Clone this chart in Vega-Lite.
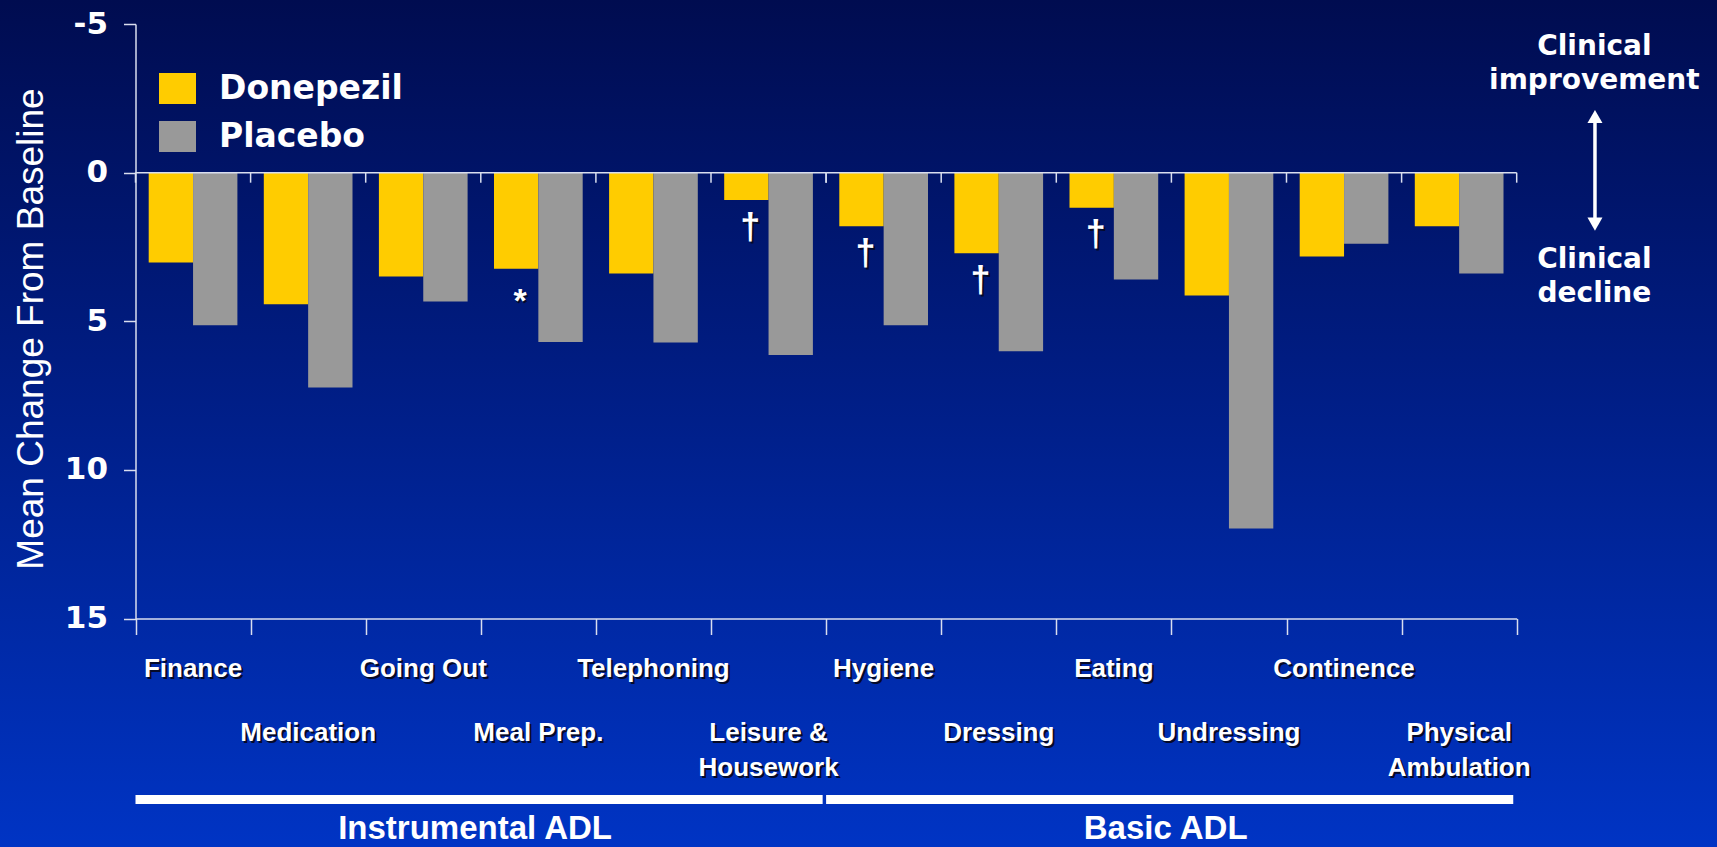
{
  "$schema": "https://vega.github.io/schema/vega-lite/v6.json",
  "width": 1717,
  "height": 847,
  "padding": 0,
  "autosize": {"type": "none"},
  "background": "#000c50",
  "config": {"view": {"stroke": null}},
  "datasets": {
    "scores": [
      {"activity": "Finance", "treatment": "Donepezil", "change": 3.02, "significance": ""},
      {"activity": "Finance", "treatment": "Placebo", "change": 5.13, "significance": ""},
      {"activity": "Medication", "treatment": "Donepezil", "change": 4.43, "significance": ""},
      {"activity": "Medication", "treatment": "Placebo", "change": 7.23, "significance": ""},
      {"activity": "Going Out", "treatment": "Donepezil", "change": 3.49, "significance": ""},
      {"activity": "Going Out", "treatment": "Placebo", "change": 4.33, "significance": ""},
      {"activity": "Meal Prep.", "treatment": "Donepezil", "change": 3.23, "significance": "*"},
      {"activity": "Meal Prep.", "treatment": "Placebo", "change": 5.7, "significance": ""},
      {"activity": "Telephoning", "treatment": "Donepezil", "change": 3.39, "significance": ""},
      {"activity": "Telephoning", "treatment": "Placebo", "change": 5.71, "significance": ""},
      {"activity": "Leisure & Housework", "treatment": "Donepezil", "change": 0.92, "significance": "†"},
      {"activity": "Leisure & Housework", "treatment": "Placebo", "change": 6.13, "significance": ""},
      {"activity": "Hygiene", "treatment": "Donepezil", "change": 1.8, "significance": "†"},
      {"activity": "Hygiene", "treatment": "Placebo", "change": 5.13, "significance": ""},
      {"activity": "Dressing", "treatment": "Donepezil", "change": 2.71, "significance": "†"},
      {"activity": "Dressing", "treatment": "Placebo", "change": 6.01, "significance": ""},
      {"activity": "Eating", "treatment": "Donepezil", "change": 1.18, "significance": "†"},
      {"activity": "Eating", "treatment": "Placebo", "change": 3.59, "significance": ""},
      {"activity": "Undressing", "treatment": "Donepezil", "change": 4.13, "significance": ""},
      {"activity": "Undressing", "treatment": "Placebo", "change": 11.97, "significance": ""},
      {"activity": "Continence", "treatment": "Donepezil", "change": 2.82, "significance": ""},
      {"activity": "Continence", "treatment": "Placebo", "change": 2.39, "significance": ""},
      {"activity": "Physical Ambulation", "treatment": "Donepezil", "change": 1.8, "significance": ""},
      {"activity": "Physical Ambulation", "treatment": "Placebo", "change": 3.39, "significance": ""}
    ],
    "activities": [
      {"activity": "Finance", "label": "Finance", "domain": "Instrumental ADL"},
      {"activity": "Medication", "label": "Medication", "domain": "Instrumental ADL"},
      {"activity": "Going Out", "label": "Going Out", "domain": "Instrumental ADL"},
      {"activity": "Meal Prep.", "label": "Meal Prep.", "domain": "Instrumental ADL"},
      {"activity": "Telephoning", "label": "Telephoning", "domain": "Instrumental ADL"},
      {"activity": "Leisure & Housework", "label": "Leisure &\nHousework", "domain": "Instrumental ADL"},
      {"activity": "Hygiene", "label": "Hygiene", "domain": "Basic ADL"},
      {"activity": "Dressing", "label": "Dressing", "domain": "Basic ADL"},
      {"activity": "Eating", "label": "Eating", "domain": "Basic ADL"},
      {"activity": "Undressing", "label": "Undressing", "domain": "Basic ADL"},
      {"activity": "Continence", "label": "Continence", "domain": "Basic ADL"},
      {"activity": "Physical Ambulation", "label": "Physical\nAmbulation", "domain": "Basic ADL"}
    ],
    "domains": [
      {"domain": "Instrumental ADL", "first": "Finance", "last": "Leisure & Housework"},
      {"domain": "Basic ADL", "first": "Hygiene", "last": "Physical Ambulation"}
    ]
  },
  "layer": [
    {
      "data": {"values": [{}]},
      "mark": {
        "type": "rect",
        "color": {
          "gradient": "linear", "x1": 0, "y1": 0, "x2": 0, "y2": 1,
          "stops": [
            {"offset": 0, "color": "#000c50"},
            {"offset": 0.45, "color": "#001d84"},
            {"offset": 1, "color": "#0034c4"}
          ]
        }
      },
      "encoding": {}
    },
    {
      "data": {"name": "scores"},
      "mark": {"type": "bar"},
      "encoding": {
        "x": {
          "field": "activity", "type": "nominal", "title": null,
          "scale": {"domain": ["Finance", "Medication", "Going Out", "Meal Prep.", "Telephoning", "Leisure & Housework", "Hygiene", "Dressing", "Eating", "Undressing", "Continence", "Physical Ambulation"], "range": [135.5, 1516.7], "paddingInner": 0, "paddingOuter": 0},
          "axis": {"orient": "bottom", "offset": -228.5, "title": null, "labels": false, "grid": false, "domainColor": "#d9deef", "domainWidth": 1.5, "tickColor": "#d9deef", "tickWidth": 1.5, "tickSize": 16, "tickBand": "extent", "zindex": 1}
        },
        "xOffset": {"field": "treatment", "type": "nominal", "scale": {"domain": ["Donepezil", "Placebo"], "paddingInner": 0, "paddingOuter": 0.2976}},
        "y": {
          "field": "change", "type": "quantitative", "stack": null, "title": "Mean Change From Baseline",
          "scale": {"domain": [-5, 15], "range": [24.1, 618.5], "nice": false, "zero": false},
          "axis": {"orient": "left", "offset": -135.5, "values": [-5, 0, 5, 10, 15], "labelExpr": "replace(datum.label, '\u2212', '-')", "title": "Mean Change From Baseline", "titleFont": "Liberation Sans", "titleFontSize": 37, "titleFontWeight": "normal", "titleColor": "#ffffff", "titleAngle": 270, "titleX": -104.5, "titleY": 328.5, "titleAlign": "center", "titleBaseline": "middle", "labelFont": "DejaVu Sans", "labelFontWeight": "bold", "labelFontSize": 31, "labelColor": "#ffffff", "labelPadding": 16, "labelBaseline": "middle", "labelFlush": false, "labelOverlap": false, "tickSize": 12, "tickColor": "#d9deef", "tickWidth": 1.5, "domainColor": "#d9deef", "domainWidth": 1.5, "grid": false, "zindex": 1}
        },
        "color": {
          "field": "treatment", "type": "nominal",
          "scale": {"domain": ["Donepezil", "Placebo"], "range": ["#ffcc00", "#999999"]},
          "legend": {"orient": "none", "legendX": 159, "legendY": 70, "title": null, "padding": 0, "symbolType": "M-1,-0.84L1,-0.84L1,0.84L-1,0.84Z", "symbolSize": 1369, "symbolStrokeWidth": 0, "labelFont": "DejaVu Sans", "labelFontWeight": "bold", "labelFontSize": 33, "labelColor": "#ffffff", "labelLimit": 500, "labelOffset": 23, "rowPadding": 12, "zindex": 1}
        }
      }
    },
    {
      "data": {"name": "domains"},
      "mark": {"type": "rule", "color": "#d9deef", "strokeWidth": 1.5},
      "encoding": {
        "x": {"field": "first", "type": "nominal", "title": null, "bandPosition": 0, "scale": {"domain": ["Finance", "Medication", "Going Out", "Meal Prep.", "Telephoning", "Leisure & Housework", "Hygiene", "Dressing", "Eating", "Undressing", "Continence", "Physical Ambulation"], "range": [135.5, 1516.7], "paddingInner": 0, "paddingOuter": 0}},
        "x2": {"field": "last", "title": null, "bandPosition": 1},
        "y": {"datum": 0, "type": "quantitative", "scale": {"domain": [-5, 15], "range": [24.1, 618.5], "nice": false, "zero": false}}
      }
    },
    {
      "data": {"name": "activities"},
      "mark": {"type": "rule", "color": "#d9deef", "strokeWidth": 1.5},
      "encoding": {
        "x": {"field": "activity", "type": "nominal", "title": null, "bandPosition": 0, "scale": {"domain": ["Finance", "Medication", "Going Out", "Meal Prep.", "Telephoning", "Leisure & Housework", "Hygiene", "Dressing", "Eating", "Undressing", "Continence", "Physical Ambulation"], "range": [135.5, 1516.7], "paddingInner": 0, "paddingOuter": 0}},
        "y": {"datum": 0, "type": "quantitative", "scale": {"domain": [-5, 15], "range": [24.1, 618.5], "nice": false, "zero": false}},
        "y2": {"datum": 0.336}
      }
    },
    {
      "data": {"name": "domains"},
      "mark": {"type": "rule", "color": "#d9deef", "strokeWidth": 1.5},
      "encoding": {
        "x": {"field": "last", "type": "nominal", "title": null, "bandPosition": 1, "scale": {"domain": ["Finance", "Medication", "Going Out", "Meal Prep.", "Telephoning", "Leisure & Housework", "Hygiene", "Dressing", "Eating", "Undressing", "Continence", "Physical Ambulation"], "range": [135.5, 1516.7], "paddingInner": 0, "paddingOuter": 0}},
        "y": {"datum": 0, "type": "quantitative", "scale": {"domain": [-5, 15], "range": [24.1, 618.5], "nice": false, "zero": false}},
        "y2": {"datum": 0.336}
      }
    },
    {
      "data": {"name": "scores"},
      "transform": [{"filter": "datum.significance === '†'"}],
      "mark": {"type": "text", "font": "Liberation Sans", "fontWeight": "bold", "fontSize": 36, "baseline": "middle", "align": "center", "color": "#050a28", "dx": 6, "dy": 29.5},
      "encoding": {
        "x": {"field": "activity", "type": "nominal", "title": null, "scale": {"domain": ["Finance", "Medication", "Going Out", "Meal Prep.", "Telephoning", "Leisure & Housework", "Hygiene", "Dressing", "Eating", "Undressing", "Continence", "Physical Ambulation"], "range": [135.5, 1516.7], "paddingInner": 0, "paddingOuter": 0}},
        "xOffset": {"field": "treatment", "type": "nominal", "scale": {"domain": ["Donepezil", "Placebo"], "paddingInner": 0, "paddingOuter": 0.2976}},
        "y": {"field": "change", "type": "quantitative", "title": "Mean Change From Baseline", "scale": {"domain": [-5, 15], "range": [24.1, 618.5], "nice": false, "zero": false}},
        "text": {"field": "significance"}
      }
    },
    {
      "data": {"name": "scores"},
      "transform": [{"filter": "datum.significance === '†'"}],
      "mark": {"type": "text", "font": "Liberation Sans", "fontWeight": "bold", "fontSize": 36, "baseline": "middle", "align": "center", "color": "#ffffff", "dx": 4, "dy": 27.5},
      "encoding": {
        "x": {"field": "activity", "type": "nominal", "title": null, "scale": {"domain": ["Finance", "Medication", "Going Out", "Meal Prep.", "Telephoning", "Leisure & Housework", "Hygiene", "Dressing", "Eating", "Undressing", "Continence", "Physical Ambulation"], "range": [135.5, 1516.7], "paddingInner": 0, "paddingOuter": 0}},
        "xOffset": {"field": "treatment", "type": "nominal", "scale": {"domain": ["Donepezil", "Placebo"], "paddingInner": 0, "paddingOuter": 0.2976}},
        "y": {"field": "change", "type": "quantitative", "title": "Mean Change From Baseline", "scale": {"domain": [-5, 15], "range": [24.1, 618.5], "nice": false, "zero": false}},
        "text": {"field": "significance"}
      }
    },
    {
      "data": {"name": "scores"},
      "transform": [{"filter": "datum.significance === '*'"}],
      "mark": {"type": "text", "font": "Liberation Sans", "fontWeight": "bold", "fontSize": 34, "baseline": "middle", "align": "center", "color": "#050a28", "dx": 5.5, "dy": 35},
      "encoding": {
        "x": {"field": "activity", "type": "nominal", "title": null, "scale": {"domain": ["Finance", "Medication", "Going Out", "Meal Prep.", "Telephoning", "Leisure & Housework", "Hygiene", "Dressing", "Eating", "Undressing", "Continence", "Physical Ambulation"], "range": [135.5, 1516.7], "paddingInner": 0, "paddingOuter": 0}},
        "xOffset": {"field": "treatment", "type": "nominal", "scale": {"domain": ["Donepezil", "Placebo"], "paddingInner": 0, "paddingOuter": 0.2976}},
        "y": {"field": "change", "type": "quantitative", "title": "Mean Change From Baseline", "scale": {"domain": [-5, 15], "range": [24.1, 618.5], "nice": false, "zero": false}},
        "text": {"field": "significance"}
      }
    },
    {
      "data": {"name": "scores"},
      "transform": [{"filter": "datum.significance === '*'"}],
      "mark": {"type": "text", "font": "Liberation Sans", "fontWeight": "bold", "fontSize": 34, "baseline": "middle", "align": "center", "color": "#ffffff", "dx": 4, "dy": 33.5},
      "encoding": {
        "x": {"field": "activity", "type": "nominal", "title": null, "scale": {"domain": ["Finance", "Medication", "Going Out", "Meal Prep.", "Telephoning", "Leisure & Housework", "Hygiene", "Dressing", "Eating", "Undressing", "Continence", "Physical Ambulation"], "range": [135.5, 1516.7], "paddingInner": 0, "paddingOuter": 0}},
        "xOffset": {"field": "treatment", "type": "nominal", "scale": {"domain": ["Donepezil", "Placebo"], "paddingInner": 0, "paddingOuter": 0.2976}},
        "y": {"field": "change", "type": "quantitative", "title": "Mean Change From Baseline", "scale": {"domain": [-5, 15], "range": [24.1, 618.5], "nice": false, "zero": false}},
        "text": {"field": "significance"}
      }
    },
    {
      "data": {"name": "activities"},
      "transform": [{"filter": {"field": "activity", "oneOf": ["Finance", "Going Out", "Telephoning", "Hygiene", "Eating", "Continence"]}}],
      "mark": {"type": "text", "font": "Liberation Sans", "fontWeight": "bold", "fontSize": 26, "baseline": "top", "align": "center", "lineBreak": "\n", "lineHeight": 35, "color": "#050a28", "dx": 2, "dy": 2},
      "encoding": {
        "x": {"field": "activity", "type": "nominal", "title": null, "scale": {"domain": ["Finance", "Medication", "Going Out", "Meal Prep.", "Telephoning", "Leisure & Housework", "Hygiene", "Dressing", "Eating", "Undressing", "Continence", "Physical Ambulation"], "range": [135.5, 1516.7], "paddingInner": 0, "paddingOuter": 0}},
        "y": {"datum": 16.262, "type": "quantitative", "scale": {"domain": [-5, 15], "range": [24.1, 618.5], "nice": false, "zero": false}},
        "text": {"field": "label"}
      }
    },
    {
      "data": {"name": "activities"},
      "transform": [{"filter": {"field": "activity", "oneOf": ["Finance", "Going Out", "Telephoning", "Hygiene", "Eating", "Continence"]}}],
      "mark": {"type": "text", "font": "Liberation Sans", "fontWeight": "bold", "fontSize": 26, "baseline": "top", "align": "center", "lineBreak": "\n", "lineHeight": 35, "color": "#ffffff"},
      "encoding": {
        "x": {"field": "activity", "type": "nominal", "title": null, "scale": {"domain": ["Finance", "Medication", "Going Out", "Meal Prep.", "Telephoning", "Leisure & Housework", "Hygiene", "Dressing", "Eating", "Undressing", "Continence", "Physical Ambulation"], "range": [135.5, 1516.7], "paddingInner": 0, "paddingOuter": 0}},
        "y": {"datum": 16.262, "type": "quantitative", "scale": {"domain": [-5, 15], "range": [24.1, 618.5], "nice": false, "zero": false}},
        "text": {"field": "label"}
      }
    },
    {
      "data": {"name": "activities"},
      "transform": [{"filter": {"field": "activity", "oneOf": ["Medication", "Meal Prep.", "Leisure & Housework", "Dressing", "Undressing", "Physical Ambulation"]}}],
      "mark": {"type": "text", "font": "Liberation Sans", "fontWeight": "bold", "fontSize": 26, "baseline": "top", "align": "center", "lineBreak": "\n", "lineHeight": 35, "color": "#050a28", "dx": 2, "dy": 2},
      "encoding": {
        "x": {"field": "activity", "type": "nominal", "title": null, "scale": {"domain": ["Finance", "Medication", "Going Out", "Meal Prep.", "Telephoning", "Leisure & Housework", "Hygiene", "Dressing", "Eating", "Undressing", "Continence", "Physical Ambulation"], "range": [135.5, 1516.7], "paddingInner": 0, "paddingOuter": 0}},
        "y": {"datum": 18.415, "type": "quantitative", "scale": {"domain": [-5, 15], "range": [24.1, 618.5], "nice": false, "zero": false}},
        "text": {"field": "label"}
      }
    },
    {
      "data": {"name": "activities"},
      "transform": [{"filter": {"field": "activity", "oneOf": ["Medication", "Meal Prep.", "Leisure & Housework", "Dressing", "Undressing", "Physical Ambulation"]}}],
      "mark": {"type": "text", "font": "Liberation Sans", "fontWeight": "bold", "fontSize": 26, "baseline": "top", "align": "center", "lineBreak": "\n", "lineHeight": 35, "color": "#ffffff"},
      "encoding": {
        "x": {"field": "activity", "type": "nominal", "title": null, "scale": {"domain": ["Finance", "Medication", "Going Out", "Meal Prep.", "Telephoning", "Leisure & Housework", "Hygiene", "Dressing", "Eating", "Undressing", "Continence", "Physical Ambulation"], "range": [135.5, 1516.7], "paddingInner": 0, "paddingOuter": 0}},
        "y": {"datum": 18.415, "type": "quantitative", "scale": {"domain": [-5, 15], "range": [24.1, 618.5], "nice": false, "zero": false}},
        "text": {"field": "label"}
      }
    },
    {
      "data": {"name": "domains"},
      "mark": {"type": "rule", "color": "#ffffff", "strokeWidth": 9, "strokeCap": "butt"},
      "encoding": {
        "x": {"field": "first", "type": "nominal", "title": null, "bandPosition": 0.0, "scale": {"domain": ["Finance", "Medication", "Going Out", "Meal Prep.", "Telephoning", "Leisure & Housework", "Hygiene", "Dressing", "Eating", "Undressing", "Continence", "Physical Ambulation"], "range": [135.5, 1516.7], "paddingInner": 0, "paddingOuter": 0}},
        "x2": {"field": "last", "title": null, "bandPosition": 0.97},
        "y": {"datum": 21.09, "type": "quantitative", "scale": {"domain": [-5, 15], "range": [24.1, 618.5], "nice": false, "zero": false}}
      }
    },
    {
      "data": {"name": "domains"},
      "mark": {"type": "text", "font": "Liberation Sans", "fontWeight": "bold", "fontSize": 33, "baseline": "alphabetic", "align": "center", "color": "#ffffff"},
      "encoding": {
        "x": {"field": "first", "type": "nominal", "title": null, "bandPosition": 2.95, "scale": {"domain": ["Finance", "Medication", "Going Out", "Meal Prep.", "Telephoning", "Leisure & Housework", "Hygiene", "Dressing", "Eating", "Undressing", "Continence", "Physical Ambulation"], "range": [135.5, 1516.7], "paddingInner": 0, "paddingOuter": 0}},
        "y": {"datum": 22.42, "type": "quantitative", "scale": {"domain": [-5, 15], "range": [24.1, 618.5], "nice": false, "zero": false}},
        "text": {"field": "domain"}
      }
    },
    {
      "data": {"values": [{}]},
      "mark": {"type": "text", "text": ["Clinical", "improvement"], "font": "DejaVu Sans", "fontWeight": "bold", "fontSize": 28, "baseline": "top", "align": "center", "lineHeight": 34, "color": "#ffffff"},
      "encoding": {
        "x": {"datum": "Physical Ambulation", "type": "nominal", "bandPosition": 1.675, "scale": {"domain": ["Finance", "Medication", "Going Out", "Meal Prep.", "Telephoning", "Leisure & Housework", "Hygiene", "Dressing", "Eating", "Undressing", "Continence", "Physical Ambulation"], "range": [135.5, 1516.7], "paddingInner": 0, "paddingOuter": 0}},
        "y": {"datum": -4.7, "type": "quantitative", "scale": {"domain": [-5, 15], "range": [24.1, 618.5], "nice": false, "zero": false}}
      }
    },
    {
      "data": {"values": [{}]},
      "mark": {"type": "text", "text": ["Clinical", "decline"], "font": "DejaVu Sans", "fontWeight": "bold", "fontSize": 28, "baseline": "top", "align": "center", "lineHeight": 34, "color": "#ffffff"},
      "encoding": {
        "x": {"datum": "Physical Ambulation", "type": "nominal", "bandPosition": 1.675, "scale": {"domain": ["Finance", "Medication", "Going Out", "Meal Prep.", "Telephoning", "Leisure & Housework", "Hygiene", "Dressing", "Eating", "Undressing", "Continence", "Physical Ambulation"], "range": [135.5, 1516.7], "paddingInner": 0, "paddingOuter": 0}},
        "y": {"datum": 2.48, "type": "quantitative", "scale": {"domain": [-5, 15], "range": [24.1, 618.5], "nice": false, "zero": false}}
      }
    },
    {
      "data": {"values": [{}]},
      "mark": {"type": "rule", "color": "#ffffff", "strokeWidth": 3.5},
      "encoding": {
        "x": {"datum": "Physical Ambulation", "type": "nominal", "bandPosition": 1.68, "scale": {"domain": ["Finance", "Medication", "Going Out", "Meal Prep.", "Telephoning", "Leisure & Housework", "Hygiene", "Dressing", "Eating", "Undressing", "Continence", "Physical Ambulation"], "range": [135.5, 1516.7], "paddingInner": 0, "paddingOuter": 0}},
        "y": {"datum": -1.75, "type": "quantitative", "scale": {"domain": [-5, 15], "range": [24.1, 618.5], "nice": false, "zero": false}},
        "y2": {"datum": 1.6}
      }
    },
    {
      "data": {"values": [{}]},
      "mark": {"type": "point", "shape": "M0,-0.87L1,0.87L-1,0.87Z", "filled": true, "size": 225, "opacity": 1, "color": "#ffffff"},
      "encoding": {
        "x": {"datum": "Physical Ambulation", "type": "nominal", "bandPosition": 1.68, "scale": {"domain": ["Finance", "Medication", "Going Out", "Meal Prep.", "Telephoning", "Leisure & Housework", "Hygiene", "Dressing", "Eating", "Undressing", "Continence", "Physical Ambulation"], "range": [135.5, 1516.7], "paddingInner": 0, "paddingOuter": 0}},
        "y": {"datum": -1.89, "type": "quantitative", "scale": {"domain": [-5, 15], "range": [24.1, 618.5], "nice": false, "zero": false}}
      }
    },
    {
      "data": {"values": [{}]},
      "mark": {"type": "point", "shape": "M0,0.87L1,-0.87L-1,-0.87Z", "filled": true, "size": 225, "opacity": 1, "color": "#ffffff"},
      "encoding": {
        "x": {"datum": "Physical Ambulation", "type": "nominal", "bandPosition": 1.68, "scale": {"domain": ["Finance", "Medication", "Going Out", "Meal Prep.", "Telephoning", "Leisure & Housework", "Hygiene", "Dressing", "Eating", "Undressing", "Continence", "Physical Ambulation"], "range": [135.5, 1516.7], "paddingInner": 0, "paddingOuter": 0}},
        "y": {"datum": 1.73, "type": "quantitative", "scale": {"domain": [-5, 15], "range": [24.1, 618.5], "nice": false, "zero": false}}
      }
    }
  ]
}
